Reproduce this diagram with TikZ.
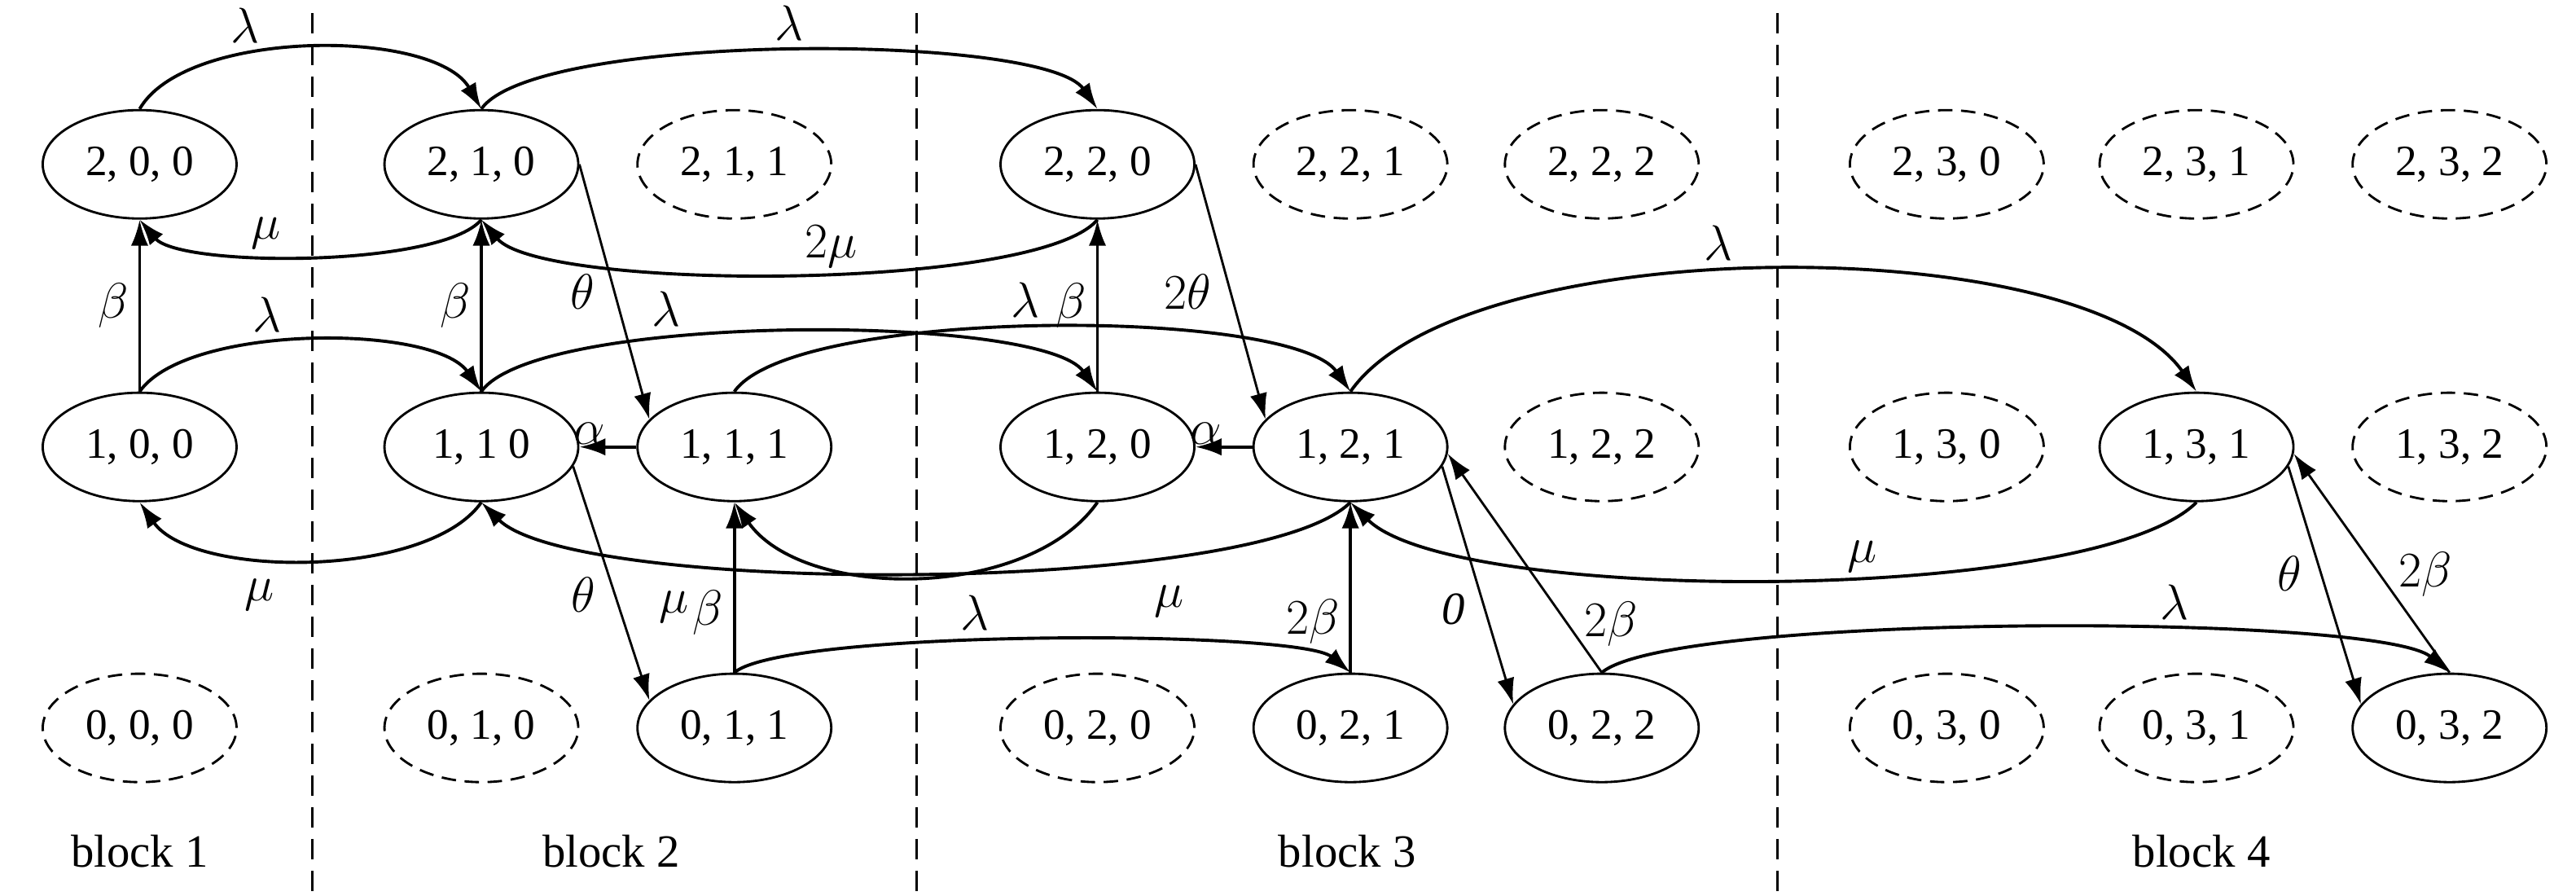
\documentclass[tikz,border=0pt]{standalone}
\usepackage{fontspec}
\setmainfont{Liberation Serif}
\usetikzlibrary{arrows.meta,shapes.geometric}
\tikzset{
	st/.style={draw, thick, ellipse, minimum width=2.36cm, minimum height=1.32cm, inner sep=0pt, font=\fontsize{15}{17}\selectfont},
	nst/.style={st, dash pattern=on 5pt off 3pt},
	tr/.style={-{Latex[length=9pt,width=6pt]}, line width=1.1pt},
	trs/.style={-{Latex[length=9pt,width=6pt]}, line width=0.8pt},
	lb/.style={font=\fontsize{16}{18}\selectfont}
}
\begin{document}
\begin{tikzpicture}[x=0.02cm, y=-0.02cm]
\useasboundingbox (0,0) rectangle (1568,545);
% Blockgrenzen
\draw[thick, dash pattern=on 7pt off 4pt] (190,8) -- (190,545);
\draw[thick, dash pattern=on 7pt off 4pt] (558,8) -- (558,545);
\draw[thick, dash pattern=on 7pt off 4pt] (1082,8) -- (1082,545);
\node[lb] (b1) at (85,518) {block 1};
\node[lb] (b2) at (372,518) {block 2};
\node[lb] (b3) at (820,518) {block 3};
\node[lb] (b4) at (1340,518) {block 4};
% Zustaende oben
\node[st] (n200) at (85,100) {2, 0, 0};
\node[st] (n210) at (293,100) {2, 1, 0};
\node[nst] (n211) at (447,100) {2, 1, 1};
\node[st] (n220) at (668,100) {2, 2, 0};
\node[nst] (n221) at (822,100) {2, 2, 1};
\node[nst] (n222) at (975,100) {2, 2, 2};
\node[nst] (n230) at (1185,100) {2, 3, 0};
\node[nst] (n231) at (1337,100) {2, 3, 1};
\node[nst] (n232) at (1491,100) {2, 3, 2};
% Zustaende Mitte
\node[st] (n100) at (85,272) {1, 0, 0};
\node[st] (n110) at (293,272) {1, 1 0};
\node[st] (n111) at (447,272) {1, 1, 1};
\node[st] (n120) at (668,272) {1, 2, 0};
\node[st] (n121) at (822,272) {1, 2, 1};
\node[nst] (n122) at (975,272) {1, 2, 2};
\node[nst] (n130) at (1185,272) {1, 3, 0};
\node[st] (n131) at (1337,272) {1, 3, 1};
\node[nst] (n132) at (1491,272) {1, 3, 2};
% Zustaende unten
\node[nst] (n000) at (85,443) {0, 0, 0};
\node[nst] (n010) at (293,443) {0, 1, 0};
\node[st] (n011) at (447,443) {0, 1, 1};
\node[nst] (n020) at (668,443) {0, 2, 0};
\node[st] (n021) at (822,443) {0, 2, 1};
\node[st] (n022) at (975,443) {0, 2, 2};
\node[nst] (n030) at (1185,443) {0, 3, 0};
\node[nst] (n031) at (1337,443) {0, 3, 1};
\node[st] (n032) at (1491,443) {0, 3, 2};
% Boegen lambda / mu
\draw[tr] (n200.north) to[out=60, in=120, looseness=0.7] node[lb, pos=0.35, above] {$\lambda$} (n210.north);
\draw[tr] (n210.south) to[out=-130, in=-50, looseness=0.47] node[lb, pos=0.6, above=-2pt] {$\mu$} (n200.south);
\draw[tr] (n210.north) to[out=55, in=125, looseness=0.39] node[lb, pos=0.5, above] {$\lambda$} (n220.north);
\draw[tr] (n220.south) to[out=-130, in=-50, looseness=0.39] node[lb, pos=0.45, above=-2pt] {$2\mu$} (n210.south);
\draw[tr] (n100.north) to[out=55, in=125, looseness=0.62] node[lb, pos=0.4, above] {$\lambda$} (n110.north);
\draw[tr] (n110.south) to[out=-125, in=-55, looseness=0.7] node[lb, pos=0.62, below=4pt] {$\mu$} (n100.south);
\draw[tr] (n110.north) to[out=55, in=125, looseness=0.4] node[lb, pos=0.35, above] {$\lambda$} (n120.north);
\draw[tr] (n111.north) to[out=55, in=125, looseness=0.43] node[lb, pos=0.48, above] {$\lambda$} (n121.north);
\draw[tr] (n120.south) to[out=-125, in=-55, looseness=0.85] node[lb, pos=0.95, below=22pt, xshift=-25pt] {$\mu$} (n111.south);
\draw[tr] (n121.south) to[out=-135, in=-45, looseness=0.39] node[lb, pos=0.27, below=6pt] {$\mu$} (n110.south);
\draw[tr] (n121.north) to[out=55, in=125, looseness=0.6] node[lb, pos=0.45, above] {$\lambda$} (n131.north);
\draw[tr] (n131.south) to[out=-135, in=-45, looseness=0.44] node[lb, pos=0.42, above=-2pt] {$\mu$} (n121.south);
\draw[tr] (n011.north) to[out=40, in=140, looseness=0.28] node[lb, pos=0.42, above] {$\lambda$} (n021.north);
\draw[tr] (n022.north) to[out=40, in=140, looseness=0.28] node[lb, pos=0.63, above] {$\lambda$} (n032.north);
% Uebergaenge beta / theta / alpha
\draw[tr] (n100.north) -- node[lb, left] {$\beta$} (n200.south);
\draw[tr] (n110.north) -- node[lb, left] {$\beta$} (n210.south);
\draw[tr] (n120.north) -- node[lb, left] {$\beta$} (n220.south);
\draw[tr] (n011.north) -- node[lb, pos=0.35, left] {$\beta$} (n111.south);
\draw[tr] (n021.north) -- node[lb, pos=0.3, left] {$2\beta$} (n121.south);
\draw[tr] (n111.west) -- node[lb, above left=-3pt] {$\alpha$} (n110.east);
\draw[tr] (n121.west) -- node[lb, above left=-3pt] {$\alpha$} (n120.east);
\draw[trs] (n210.east) -- node[lb, pos=0.5, left=3pt] {$\theta$} (n111.162);
\draw[trs] (n220.east) -- node[lb, pos=0.5, left=3pt] {$2\theta$} (n121.162);
\draw[trs] (n110.-12) -- node[lb, pos=0.55, left=3pt] {$\theta$} (n011.162);
\draw[trs] (n121.-12) -- node[lb, pos=0.6, left=3pt] {\textit{0}} (n022.165);
\draw[trs] (n022.north) -- node[lb, pos=0.22, right=2pt] {$2\beta$} (n121.-4);
\draw[trs] (n131.-12) -- node[lb, pos=0.45, left=3pt] {$\theta$} (n032.165);
\draw[trs] (n032.north) -- node[lb, pos=0.45, right=3pt] {$2\beta$} (n131.-4);
\end{tikzpicture}
\end{document}
